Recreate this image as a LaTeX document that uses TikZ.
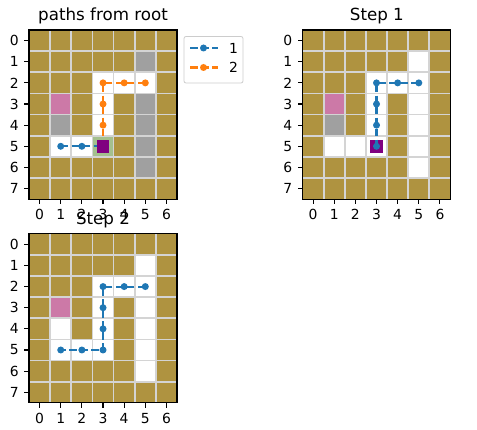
\documentclass[tikz,border=0pt]{standalone}
\usepackage{fontspec}
\setmainfont{DejaVu Sans}
\definecolor{wallc}{HTML}{AF9340}
\definecolor{stonec}{HTML}{A0A0A0}
\definecolor{goalc}{HTML}{CC79A7}
\definecolor{agentc}{HTML}{800080}
\definecolor{rootc}{HTML}{A4C08E}
\definecolor{gridc}{HTML}{D4D4D4}
\definecolor{pathA}{HTML}{1F77B4}
\definecolor{pathB}{HTML}{FF7F0E}
\definecolor{legc}{HTML}{CCCCCC}

% one cell of the board, column #2 and row #3
\newcommand\gridcell[3]{\fill[#1] (#2-0.5,#3-0.5) rectangle ++(1,1);}

% board background, grid lines, frame and tick labels
\newcommand\boardbase{%
  \fill[wallc] (-0.5,-0.5) rectangle (6.5,7.5);
}
\newcommand\boardframe[1]{%
  \foreach \i in {1,...,6} \draw[gridline] (\i-0.5,-0.5) -- (\i-0.5,7.5);
  \foreach \j in {1,...,7} \draw[gridline] (-0.5,\j-0.5) -- (6.5,\j-0.5);
  \draw[spine] (-0.5,-0.5) rectangle (6.5,7.5);
  \foreach \i in {0,...,6} {
    \draw[spine] (\i,7.5) -- ++(0pt,-4.9pt)
      node[ticklabel,anchor=north,yshift=-4.9pt] (#1x\i) {\i};
  }
  \foreach \j in {0,...,7} {
    \draw[spine] (-0.5,\j) -- ++(-4.9pt,0pt)
      node[ticklabel,anchor=east,xshift=-4.9pt] (#1y\j) {\j};
  }
}

\begin{document}
\begin{tikzpicture}[x=1pt,y=-1pt,
  gridline/.style={draw=gridc,line width=1.8pt},
  spine/.style={draw=black,line width=1.1pt},
  ticklabel/.style={font=\fontsize{13.9}{16}\selectfont,inner sep=0pt},
  titletext/.style={font=\fontsize{16.7}{19}\selectfont,inner sep=0pt,anchor=base},
  route/.style={line width=2.08pt,dash pattern=on 7.7pt off 3.3pt},
  dot/.style={fill=#1}]

\useasboundingbox (0,0) rectangle (477,430);

% ---------- paths from root ----------
\begin{scope}[shift={(39.6,40.6)},x=21.14pt,y=-21.14pt]
  \boardbase
  \gridcell{stonec}{5}{1}
  \gridcell{stonec}{5}{3}
  \gridcell{stonec}{5}{4}
  \gridcell{stonec}{5}{5}
  \gridcell{stonec}{5}{6}
  \gridcell{stonec}{1}{4}
  \gridcell{goalc}{1}{3}
  \foreach \c/\r in {3/2,4/2,5/2,3/3,3/4,1/5,2/5} {\gridcell{white}{\c}{\r}}
  \gridcell{rootc}{3}{5}
  \boardframe{a}
  \coordinate (a15) at (1,5);
  \coordinate (a25) at (2,5);
  \coordinate (a35) at (3,5);
  \coordinate (a52) at (5,2);
  \coordinate (a42) at (4,2);
  \coordinate (a32) at (3,2);
  \coordinate (a33) at (3,3);
  \coordinate (a34) at (3,4);
  \draw[route,pathA] (a15) -- (a25) -- (a35);
  \foreach \p in {a15,a25,a35} \fill[pathA] (\p) circle (3.5pt);
  \draw[route,pathB] (a52) -- (a42) -- (a32) -- (a33) -- (a34) -- (a35);
  \foreach \p in {a52,a42,a32,a33,a34,a35} \fill[pathB] (\p) circle (3.5pt);
  \fill[agentc] (2.7,4.7) rectangle (3.3,5.3);
\end{scope}
\node[titletext] (t0) at (103,20.5) {paths from root};

% legend
\draw[legc,line width=0.8pt,fill=white,rounded corners=2pt] (184,36.5) rectangle (243,83);
\coordinate (l1a) at (189,48);
\coordinate (l1b) at (218,48);
\coordinate (l2a) at (189,67.5);
\coordinate (l2b) at (218,67.5);
\draw[route,pathA,dash phase=-1pt] (l1a) -- (l1b);
\fill[pathA] (203.5,48) circle (3.5pt);
\draw[route,pathB,dash phase=-1pt] (l2a) -- (l2b);
\fill[pathB] (203.5,67.5) circle (3.5pt);
\node[ticklabel,anchor=west] (lt1) at (229,48) {1};
\node[ticklabel,anchor=west] (lt2) at (229,67.5) {2};

% ---------- Step 1 ----------
\begin{scope}[shift={(313.1,40.6)},x=21.14pt,y=-21.14pt]
  \boardbase
  \foreach \c/\r in {5/1,3/2,4/2,5/2,3/3,5/3,3/4,5/4,1/5,2/5,3/5,5/5,5/6} {\gridcell{white}{\c}{\r}}
  \gridcell{goalc}{1}{3}
  \gridcell{stonec}{1}{4}
  \boardframe{b}
  \fill[agentc] (2.7,4.7) rectangle (3.3,5.3);
  \coordinate (b52) at (5,2);
  \coordinate (b42) at (4,2);
  \coordinate (b32) at (3,2);
  \coordinate (b33) at (3,3);
  \coordinate (b34) at (3,4);
  \coordinate (b35) at (3,5);
  \draw[route,pathA] (b52) -- (b42) -- (b32) -- (b33) -- (b34) -- (b35);
  \foreach \p in {b52,b42,b32,b33,b34,b35} \fill[pathA] (\p) circle (3.5pt);
\end{scope}
\node[titletext] (t1) at (376.9,20.5) {Step 1};

% ---------- Step 2 ----------
\begin{scope}[shift={(39.6,244.3)},x=21.14pt,y=-21.14pt]
  \boardbase
  \foreach \c/\r in {5/1,3/2,4/2,5/2,3/3,5/3,1/4,3/4,5/4,1/5,2/5,3/5,5/5,5/6} {\gridcell{white}{\c}{\r}}
  \gridcell{goalc}{1}{3}
  \boardframe{c}
  \coordinate (c52) at (5,2);
  \coordinate (c42) at (4,2);
  \coordinate (c32) at (3,2);
  \coordinate (c33) at (3,3);
  \coordinate (c34) at (3,4);
  \coordinate (c35) at (3,5);
  \coordinate (c25) at (2,5);
  \coordinate (c15) at (1,5);
  \draw[route,pathA] (c52) -- (c42) -- (c32) -- (c33) -- (c34) -- (c35) -- (c25) -- (c15);
  \foreach \p in {c52,c42,c32,c33,c34,c35,c25,c15} \fill[pathA] (\p) circle (3.5pt);
\end{scope}
\node[titletext] (t2) at (103,224.5) {Step 2};

\end{tikzpicture}
\end{document}
